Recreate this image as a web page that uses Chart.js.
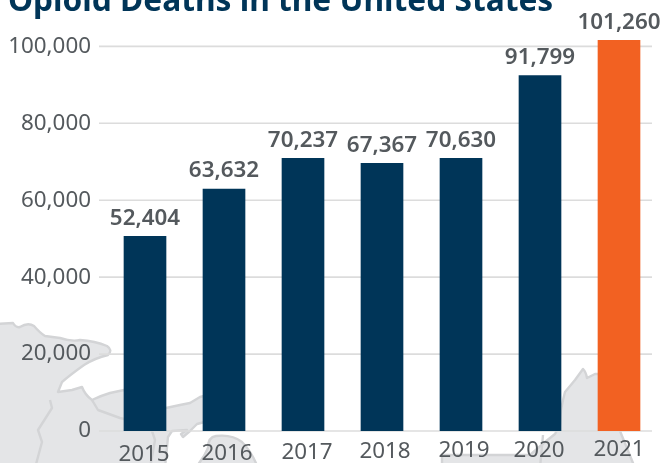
<!DOCTYPE html>
<html>
<head>
<meta charset="utf-8">
<title>Opioid Deaths in the United States</title>
<script src="https://cdn.jsdelivr.net/npm/chart.js@4"></script>
<style>
	html, body { margin: 0; padding: 0; background: #fff; overflow: hidden; }
	#wrap { width: 664px; height: 463px; }
</style>
</head>
<body>
<div id="wrap"><canvas id="chart-opioid"></canvas></div>
<script>
	const titleText = "Opioid Deaths in the United States";
	const years = ["2015", "2016", "2017", "2018", "2019", "2020", "2021"];
	// the printed figures; the bars in the picture do not quite follow them
	const printedDeaths = ["52,404", "63,632", "70,237", "67,367", "70,630", "91,799", "101,260"];
	const barHeights = [50600, 62900, 70900, 69600, 70900, 92400, 101600];
	const yTicks = [0, 20000, 40000, 60000, 80000, 100000];

	const navy = "#003558";
	const orange = "#f26122";
	const textGrey = "#54595d";
	const labelFont = "600 22.4px 'Noto Sans'";
	const tickFont = "22.4px 'Noto Sans'";

	// year labels sit on a slight tilt in the original
	const yearNudgeX = [-1, 3, 4, 3, 3, -1, 0];
	const yearY = [455, 454, 453, 452, 451, 451, 450];

	// backdrop map, only decoration
	const mapLand = new Path2D("M-5 324 L13 323 Q16 328 20 327 Q28 322 34 326 Q40 333 45 336 L60 338 Q72 342 80 340 Q95 341 107 346 Q113 350 108 355 Q95 358 84 365 Q70 375 62 382 L58 392 L72 390 L82 387 Q85 395 92 400 Q100 396 110 393 L124 390 L166 408 L180 405 L190 403 L200 397 L212 394 L212 420 L197 424 L190 431 L183 437 L181 434 L187 430 L172 431 L168 437 L165 468 L-5 468 Z");
	const mapLandMichigan = new Path2D("M195 468 Q204 458 208 448 Q208 437 216 436 Q232 434 242 442 Q252 452 258 468 Z");
	const mapLandEast = new Path2D("M583 369 Q586 372 587 378 L595 374 L620 374 L620 431 L635 468 L442 468 L442 455 L515 455 L530 455 L545 442 L555 434 L560 425 L561 410 L563 400 L565 392 L575 380 Z");
	const mapBorders = new Path2D("M50 400 L52 408 L38 430 L42 442 L35 468 M92 400 L98 410 L120 418 L150 425 L155 440 L150 468 M543 435 L540 468");

	const backdropPlugin =
	{
		id: "backdrop",
		beforeDraw: function(chart)
		{
			const ctx = chart.ctx;
			const yScale = chart.scales.y;

			ctx.save();
			ctx.fillStyle = "#e4e5e7";
			ctx.strokeStyle = "#d3d4d6";
			ctx.lineWidth = 2.4;
			ctx.lineJoin = "round";
			[mapLand, mapLandMichigan, mapLandEast].forEach(function(part)
			{
				ctx.fill(part);
				ctx.stroke(part);
			});
			ctx.stroke(mapBorders);

			// the rules run further left than the bar bands do
			ctx.strokeStyle = "#dcdcdc";
			ctx.lineWidth = 1.6;
			yTicks.forEach(function(value)
			{
				const y = yScale.getPixelForValue(value);
				ctx.beginPath();
				ctx.moveTo(99, y);
				ctx.lineTo(652, y);
				ctx.stroke();
			});
			ctx.restore();
		},
		afterDatasetsDraw: function(chart)
		{
			const ctx = chart.ctx;
			const bars = chart.getDatasetMeta(0).data;

			ctx.save();
			ctx.textAlign = "center";
			ctx.textBaseline = "middle";

			ctx.font = labelFont;
			ctx.fillStyle = textGrey;
			bars.forEach(function(bar, i)
			{
				ctx.fillText(printedDeaths[i], bar.x, bar.y - 18);
			});

			ctx.font = tickFont;
			bars.forEach(function(bar, i)
			{
				ctx.fillText(years[i], bar.x + yearNudgeX[i], yearY[i]);
			});

			ctx.textAlign = "left";
			ctx.textBaseline = "alphabetic";
			ctx.font = "bold 31.7px 'Noto Sans'";
			ctx.fillStyle = navy;
			ctx.fillText(titleText, 8, 11);
			ctx.restore();
		}
	};

	new Chart("chart-opioid", {
		type: "bar",
		plugins: [backdropPlugin],
		data: {
			labels: years,
			datasets: [{
				data: barHeights,
				barThickness: 42,
				backgroundColor: [navy, navy, navy, navy, navy, navy, orange]
			}]
		},
		options: {
			responsive: true,
			maintainAspectRatio: false,
			animation: false,
			layout: { padding: { top: 7.5, right: 5.5, left: 0, bottom: 0 } },
			plugins: {
				legend: { display: false },
				tooltip: { enabled: false }
			},
			scales: {
				x: {
					grid: { display: false, drawTicks: false },
					border: { display: false },
					ticks: { display: false },
					afterFit: function(scale) { scale.height = 32; }
				},
				y: {
					min: 0,
					max: 104800,
					grid: { display: false, drawTicks: false },
					border: { display: false },
					afterBuildTicks: function(scale)
					{
						scale.ticks = yTicks.map(function(v) { return { value: v }; });
					},
					afterFit: function(scale) { scale.width = 105.5; },
					ticks: {
						padding: 14.5,
						color: textGrey,
						font: { family: "'Noto Sans'", size: 22.4 },
						callback: function(v) { return v.toLocaleString("en-US"); }
					}
				}
			}
		}
	});
</script>
</body>
</html>
